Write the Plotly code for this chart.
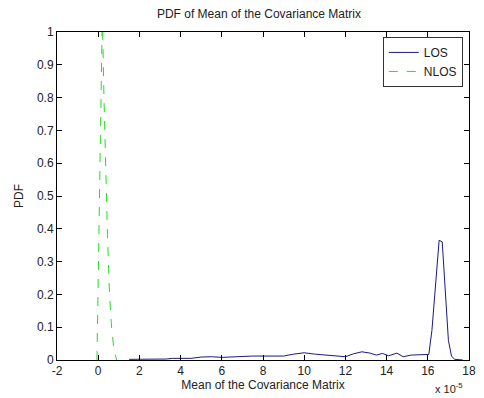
import plotly.graph_objects as go

# Mean of the covariance matrix (units of 1e-5) and estimated PDF values
los_x = [1.5, 2.0, 2.5, 3.0, 3.3, 3.6, 4.0, 4.5, 5.0, 5.5, 6.0, 6.5, 7.0, 7.5, 8.0, 8.5,
         9.0, 9.5, 10.0, 10.5, 11.0, 11.5, 12.0, 12.4, 12.8, 13.2, 13.5, 13.8, 14.1,
         14.5, 14.8, 15.2, 15.6, 16.05, 16.2, 16.4, 16.55, 16.7, 16.85, 17.0, 17.15,
         17.3, 17.7]
los_y = [0.002, 0.002, 0.002, 0.002, 0.003, 0.005, 0.006, 0.005, 0.009, 0.010, 0.008,
         0.010, 0.010, 0.012, 0.012, 0.011, 0.012, 0.018, 0.022, 0.018, 0.016, 0.012,
         0.010, 0.019, 0.025, 0.021, 0.015, 0.020, 0.013, 0.021, 0.010, 0.015, 0.016,
         0.017, 0.090, 0.260, 0.365, 0.360, 0.200, 0.060, 0.012, 0.002, 0.0]

nlos_x = [-0.06, 0.08, 0.2, 0.28, 0.35, 0.45, 0.55, 0.65, 0.75, 0.89]
nlos_y = [0.0, 0.55, 1.05, 0.80, 0.60, 0.38, 0.20, 0.10, 0.04, 0.0]

x_ticks = list(range(-2, 19, 2))
y_ticks = [round(0.1 * i, 1) for i in range(11)]

font = "Liberation Sans, Arial, sans-serif"

fig = go.Figure()
fig.add_trace(go.Scatter(x=los_x, y=los_y, mode="lines", name="LOS",
                         line=dict(color="#1a1a80", width=1)))
fig.add_trace(go.Scatter(x=nlos_x, y=nlos_y, mode="lines", name="NLOS",
                         line=dict(color="#22dd22", width=1, dash="dash")))

axis_common = dict(showgrid=False, zeroline=False, showline=True, linecolor="black",
                   linewidth=1, mirror="ticks", ticks="inside", ticklen=5,
                   tickcolor="black", tickfont=dict(family=font, size=12, color="#222"))

fig.update_layout(
    width=484, height=398,
    margin=dict(l=57, r=8, t=32, b=38),
    paper_bgcolor="white", plot_bgcolor="white",
    font=dict(family=font, size=12, color="#222"),
    title=dict(text="PDF of Mean of the Covariance Matrix", x=0.535, xanchor="center",
               y=0.965, yanchor="middle", font=dict(family=font, size=12, color="#222")),
    xaxis=dict(range=[-2, 18], tickvals=x_ticks, ticktext=[str(v) for v in x_ticks],
               title=dict(text="Mean of the Covariance Matrix", standoff=2,
                          font=dict(family=font, size=12)), **axis_common),
    yaxis=dict(range=[0, 1], tickvals=y_ticks,
               ticktext=["0", "0.1", "0.2", "0.3", "0.4", "0.5", "0.6", "0.7", "0.8", "0.9", "1"],
               title=dict(text="PDF", standoff=10, font=dict(family=font, size=12)),
               **axis_common),
    legend=dict(x=0.985, y=0.985, xanchor="right", yanchor="top", bgcolor="white",
                bordercolor="#333", borderwidth=1, font=dict(family=font, size=12),
                tracegroupgap=0, itemwidth=30),
    showlegend=True,
)

fig.add_annotation(text="x 10<sup>-5</sup>", xref="paper", yref="paper", x=0.99, y=-0.112,
                   xanchor="right", yanchor="bottom", showarrow=False,
                   font=dict(family=font, size=11, color="#222"))

fig.write_html("out.html")
